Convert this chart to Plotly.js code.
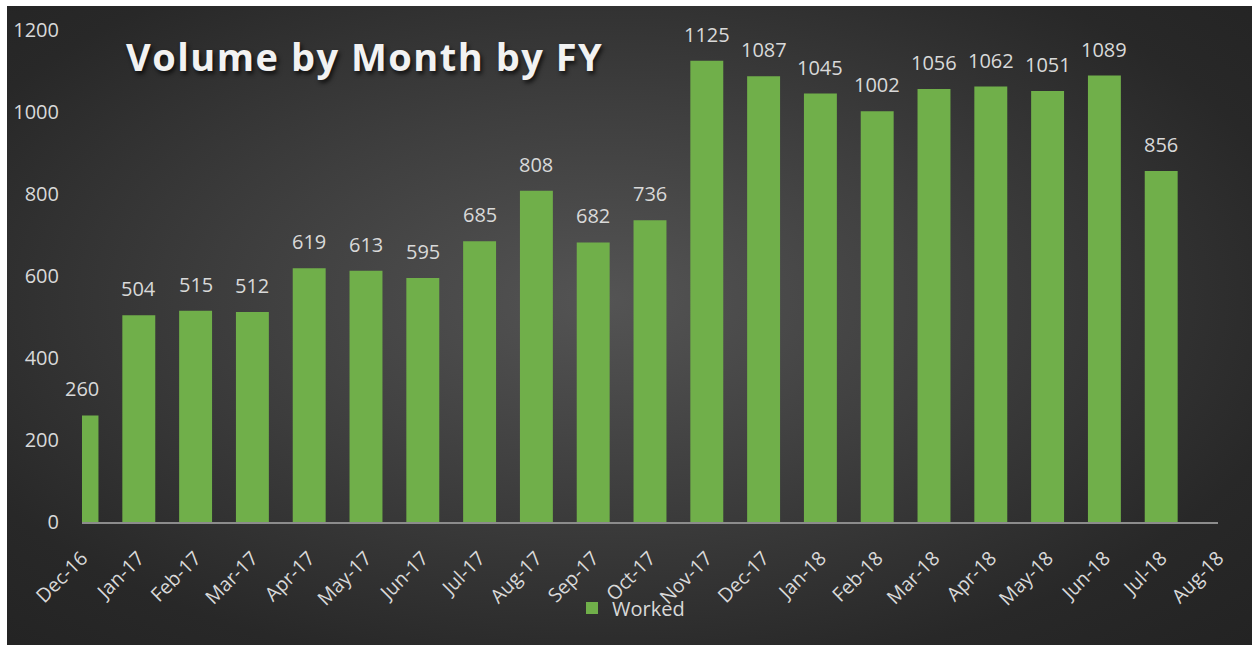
<!DOCTYPE html>
<html>
<head>
<meta charset="utf-8">
<script src="https://cdn.plot.ly/plotly-3.0.1.min.js"></script>
<style>
  html, body { margin: 0; padding: 0; background: #ffffff; width: 1252px; height: 645px; overflow: hidden; }
  #bg { position: absolute; left: 7px; top: 6px; width: 1245px; height: 639px;
        background: radial-gradient(ellipse farthest-corner at 48% 46%, #545454 0%, #3e3e3e 40%, #282828 78%, #232323 100%); }
  #chart { position: absolute; left: 0; top: 0; width: 1252px; height: 645px; }
  .gtitle { letter-spacing: 1.5px; }
</style>
</head>
<body>
<div id="bg"></div>
<div id="chart"></div>
<script>
// Data
const months = ["Dec-16","Jan-17","Feb-17","Mar-17","Apr-17","May-17","Jun-17","Jul-17","Aug-17","Sep-17","Oct-17","Nov-17","Dec-17","Jan-18","Feb-18","Mar-18","Apr-18","May-18","Jun-18","Jul-18","Aug-18"];
const barMonths = ["Dec-16","Jan-17","Feb-17","Mar-17","Apr-17","May-17","Jun-17","Jul-17","Aug-17","Sep-17","Oct-17","Nov-17","Dec-17","Jan-18","Feb-18","Mar-18","Apr-18","May-18","Jun-18","Jul-18"];
const worked = [260,504,515,512,619,613,595,685,808,682,736,1125,1087,1045,1002,1056,1062,1051,1089,856];
const yTicks = [0,200,400,600,800,1000,1200];
const seriesName = "Worked";
const chartTitle = "Volume by Month by FY";

const labelColor = "#d9d9d9";
const fontFam = "'Open Sans', 'DejaVu Sans', sans-serif";

const trace = {
  type: "bar",
  x: barMonths,
  y: worked,
  name: seriesName,
  marker: { color: "#70af4a", line: { width: 0 } },
  hoverinfo: "x+y",
  showlegend: true
};

const annotations = barMonths.map((m, i) => ({
  x: m, y: worked[i], xref: "x", yref: "y",
  text: String(worked[i]),
  showarrow: false,
  yanchor: "bottom",
  yshift: 11,
  font: { family: fontFam, size: 20, color: labelColor }
}));

const layout = {
  width: 1252, height: 645,
  paper_bgcolor: "rgba(0,0,0,0)",
  plot_bgcolor: "rgba(0,0,0,0)",
  margin: { l: 82, r: 34, t: 30, b: 123, pad: 0 },
  bargap: 0.42,
  title: {
    text: chartTitle,
    xref: "container", yref: "container",
    x: 126/1252, xanchor: "left",
    y: 1 - 58/645, yanchor: "middle",
    font: { family: fontFam, size: 38, weight: 700, color: "#f2f2f2", shadow: "2px 3px 4px rgba(0,0,0,0.7)" }
  },
  xaxis: {
    type: "category",
    categoryorder: "array",
    categoryarray: months,
    range: [0, months.length - 1],
    tickangle: -45,
    ticks: "",
    showgrid: false,
    zeroline: false,
    showline: true,
    linecolor: "#8c8c8c",
    linewidth: 2,
    ticklabelstandoff: 15,
    tickfont: { family: fontFam, size: 19.5, color: labelColor },
    fixedrange: true
  },
  yaxis: {
    range: [0, 1200],
    tickvals: yTicks,
    ticktext: yTicks.map(String),
    ticks: "",
    showgrid: false,
    zeroline: false,
    showline: false,
    ticklabelstandoff: 22,
    tickfont: { family: fontFam, size: 20, color: labelColor },
    fixedrange: true
  },
  legend: {
    orientation: "h",
    xref: "container", yref: "container",
    x: 572/1252, xanchor: "left",
    y: 1 - 608/645, yanchor: "middle",
    font: { family: fontFam, size: 20, color: labelColor },
    bgcolor: "rgba(0,0,0,0)"
  },
  annotations: annotations,
  showlegend: true
};

Plotly.newPlot("chart", [trace], layout, { displayModeBar: false, staticPlot: true });
</script>
</body>
</html>
